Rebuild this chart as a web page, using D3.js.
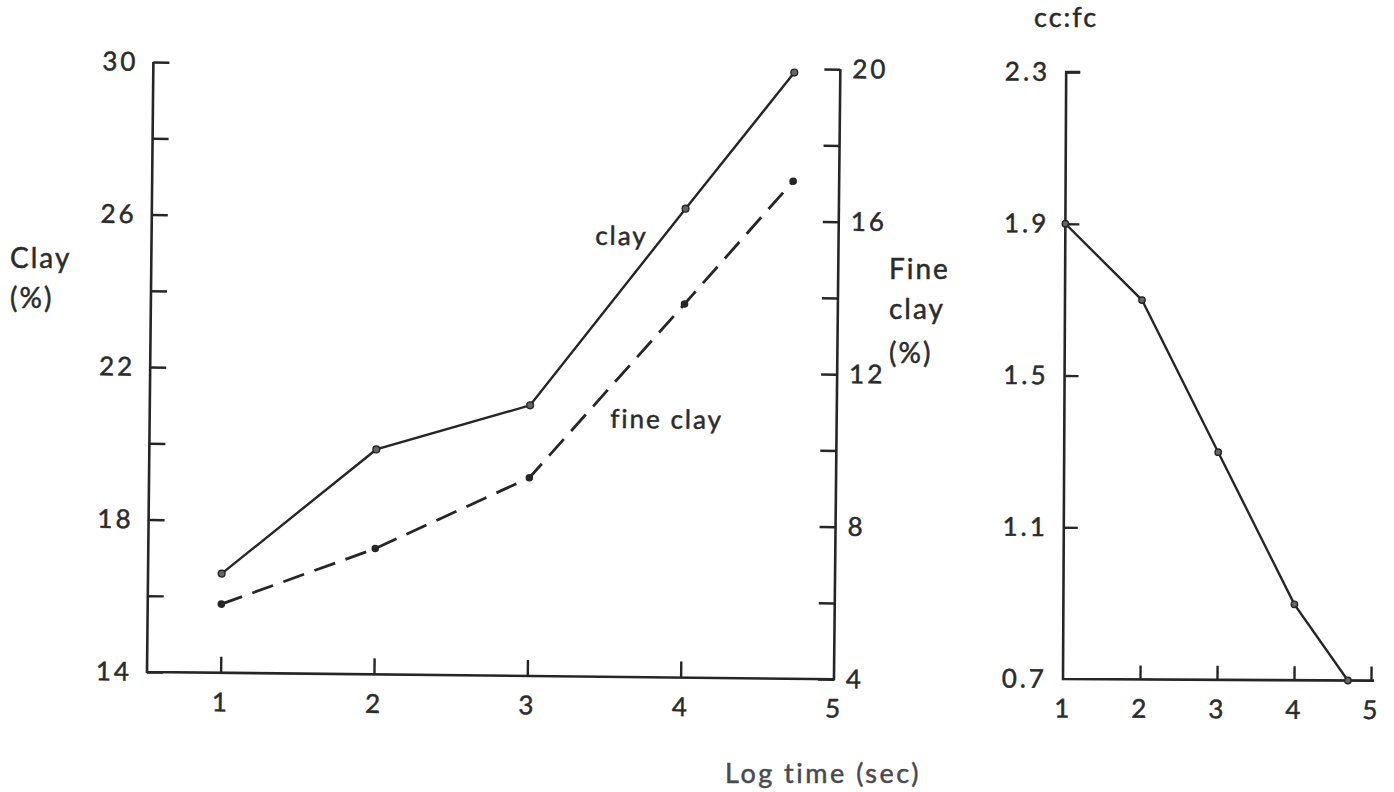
<!DOCTYPE html>
<html>
<head>
<meta charset="utf-8">
<title>Clay and fine clay against log time</title>
<style>
body { margin: 0; background: #fff; }
svg text { font-family: Lato, "DejaVu Sans", sans-serif; fill: #2b2b2b; stroke: #2b2b2b; stroke-width: 0.5px; }
</style>
</head>
<body>
<svg id="chart"></svg>
<script src="https://cdnjs.cloudflare.com/ajax/libs/d3/7.8.5/d3.min.js"></script>
<script>
// values
var logTime = [1, 2, 3, 4, 4.7];
var clay = [16.6, 19.9, 21.1, 26.3, 29.9];
var fineClay = [5.8, 7.3, 9.2, 13.8, 17.05];
var ccfc = [1.9, 1.7, 1.3, 0.9, 0.7];

var clayTicks = [14, 16, 18, 20, 22, 24, 26, 28, 30];
var clayLabels = [14, 18, 22, 26, 30];
var fineTicks = [4, 6, 8, 10, 12, 14, 16, 18, 20];
var fineLabels = [4, 8, 12, 16, 20];
var timeTicks = [1, 2, 3, 4, 5];
var ratioTicks = [0.7, 1.1, 1.5, 1.9, 2.3];

var ink = '#262626';
var width = 1394, height = 792;

var svg = d3.select('#chart')
  .attr('width', width)
  .attr('height', height);

// ---- left panel: clay and fine clay ----
var left = svg.append('g')
  .attr('transform', 'rotate(0.6, 147, 672)');

var x = d3.scaleLinear().domain([0.52, 5]).range([147, 834]);
var yClay = d3.scaleLinear().domain([14, 30]).range([672, 62]);
var yFine = d3.scaleLinear().domain([4, 20]).range([672, 62]);

function styleAxis(g) {
  g.select('.domain').remove();
  g.selectAll('line').attr('stroke', ink).attr('stroke-width', 2.4);
  g.selectAll('text').style('font-size', '26px').style('letter-spacing', '3px').attr('fill', ink);
}

// frame lines
left.append('path')
  .attr('d', 'M' + x(0.52) + ',' + yClay(30) + 'V' + yClay(14) + 'H' + x(5) + 'V' + yFine(20))
  .attr('fill', 'none').attr('stroke', ink).attr('stroke-width', 2.6);

left.append('g')
  .attr('transform', 'translate(' + x(0.52) + ',0)')
  .call(d3.axisRight(yClay).tickValues(clayTicks).tickSize(16).tickFormat(''))
  .call(styleAxis);
left.append('g')
  .attr('transform', 'translate(' + (x(0.52) - 15) + ',0)')
  .call(d3.axisLeft(yClay).tickValues(clayLabels).tickSize(0).tickPadding(0))
  .call(styleAxis);

left.append('g')
  .attr('transform', 'translate(' + x(5) + ',0)')
  .call(d3.axisLeft(yFine).tickValues(fineTicks).tickSize(16).tickFormat(''))
  .call(styleAxis);
left.append('g')
  .attr('transform', 'translate(' + (x(5) + 12) + ',0)')
  .call(d3.axisRight(yFine).tickValues(fineLabels).tickSize(0).tickPadding(0))
  .call(styleAxis);

left.append('g')
  .attr('transform', 'translate(0,' + yClay(14) + ')')
  .call(d3.axisTop(x).tickValues(timeTicks.slice(0, 4)).tickSize(16).tickFormat(''))
  .call(styleAxis);
left.append('g')
  .attr('transform', 'translate(0,' + (yClay(14) + 20) + ')')
  .call(d3.axisBottom(x).tickValues(timeTicks).tickSize(0).tickPadding(0).tickFormat(d3.format('d')))
  .call(styleAxis);

var clayLine = d3.line()
  .x(function(d, i) { return x(logTime[i]); })
  .y(function(d) { return yClay(d); });
var fineLine = d3.line()
  .x(function(d, i) { return x(logTime[i]); })
  .y(function(d) { return yFine(d); });

left.append('path')
  .datum(clay)
  .attr('d', clayLine)
  .attr('fill', 'none').attr('stroke', ink).attr('stroke-width', 2.4);
left.append('path')
  .datum(fineClay)
  .attr('d', fineLine)
  .attr('fill', 'none').attr('stroke', ink).attr('stroke-width', 2.8)
  .attr('stroke-dasharray', '22,11');

left.selectAll('.clayPt')
  .data(clay).enter().append('circle')
  .attr('cx', function(d, i) { return x(logTime[i]); })
  .attr('cy', function(d) { return yClay(d); })
  .attr('r', 3.4).attr('fill', '#666').attr('stroke', ink).attr('stroke-width', 1.4);
left.selectAll('.finePt')
  .data(fineClay).enter().append('circle')
  .attr('cx', function(d, i) { return x(logTime[i]); })
  .attr('cy', function(d) { return yFine(d); })
  .attr('r', 3.8).attr('fill', ink);

left.append('text').attr('x', 617).attr('y', 240)
  .attr('text-anchor', 'middle').style('font-size', '26px').style('letter-spacing', '2px')
  .text('clay');
left.append('text').attr('x', 664).attr('y', 423)
  .attr('text-anchor', 'middle').style('font-size', '26px').style('letter-spacing', '2px')
  .text('fine clay');

// axis titles
svg.append('text').attr('x', 10).attr('y', 268)
  .style('font-size', '28px').style('letter-spacing', '2px').text('Clay');
svg.append('text').attr('x', 10).attr('y', 308)
  .style('font-size', '28px').style('letter-spacing', '2px').text('(%)');

svg.append('text').attr('x', 889).attr('y', 279)
  .style('font-size', '28px').style('letter-spacing', '2px').text('Fine');
svg.append('text').attr('x', 889).attr('y', 319)
  .style('font-size', '28px').style('letter-spacing', '2px').text('clay');
svg.append('text').attr('x', 889).attr('y', 363)
  .style('font-size', '28px').style('letter-spacing', '2px').text('(%)');

svg.append('text').attr('x', 823).attr('y', 783)
  .attr('text-anchor', 'middle')
  .style('font-size', '27px').style('letter-spacing', '2.5px')
  .style('fill', '#4a4a4a').style('stroke', '#4a4a4a')
  .text('Log time (sec)');

// ---- right panel: cc:fc ratio ----
var right = svg.append('g')
  .attr('transform', 'rotate(0.3, 1063, 679)');

var x2 = d3.scaleLinear().domain([1, 5]).range([1063, 1371]);
var yRatio = d3.scaleLinear().domain([0.7, 2.3]).range([679, 72]);

right.append('path')
  .attr('d', 'M' + (x2(1) + 14) + ',' + yRatio(2.3) + 'H' + x2(1) + 'V' + yRatio(0.7) + 'H' + (x2(5) + 3))
  .attr('fill', 'none').attr('stroke', ink).attr('stroke-width', 2.6);

right.append('g')
  .attr('transform', 'translate(' + x2(1) + ',0)')
  .call(d3.axisRight(yRatio).tickValues(ratioTicks.slice(1)).tickSize(14).tickFormat(''))
  .call(styleAxis);
right.append('g')
  .attr('transform', 'translate(' + (x2(1) - 16) + ',0)')
  .call(d3.axisLeft(yRatio).tickValues(ratioTicks).tickSize(0).tickPadding(0).tickFormat(d3.format('.1f')))
  .call(styleAxis);

right.append('g')
  .attr('transform', 'translate(0,' + yRatio(0.7) + ')')
  .call(d3.axisTop(x2).tickValues(timeTicks.slice(1)).tickSize(14).tickFormat(''))
  .call(styleAxis);
right.append('g')
  .attr('transform', 'translate(0,' + (yRatio(0.7) + 20) + ')')
  .call(d3.axisBottom(x2).tickValues(timeTicks).tickSize(0).tickPadding(0).tickFormat(d3.format('d')))
  .call(styleAxis);

var ratioLine = d3.line()
  .x(function(d, i) { return x2(logTime[i]); })
  .y(function(d) { return yRatio(d); });

right.append('path')
  .datum(ccfc)
  .attr('d', ratioLine)
  .attr('fill', 'none').attr('stroke', ink).attr('stroke-width', 2.4);
right.selectAll('.ratioPt')
  .data(ccfc).enter().append('circle')
  .attr('cx', function(d, i) { return x2(logTime[i]); })
  .attr('cy', function(d) { return yRatio(d); })
  .attr('r', 3.2).attr('fill', '#666').attr('stroke', ink).attr('stroke-width', 1.4);

svg.append('text').attr('x', 1034).attr('y', 27)
  .style('font-size', '27px').style('letter-spacing', '2px').text('cc:fc');
</script>
</body>
</html>
